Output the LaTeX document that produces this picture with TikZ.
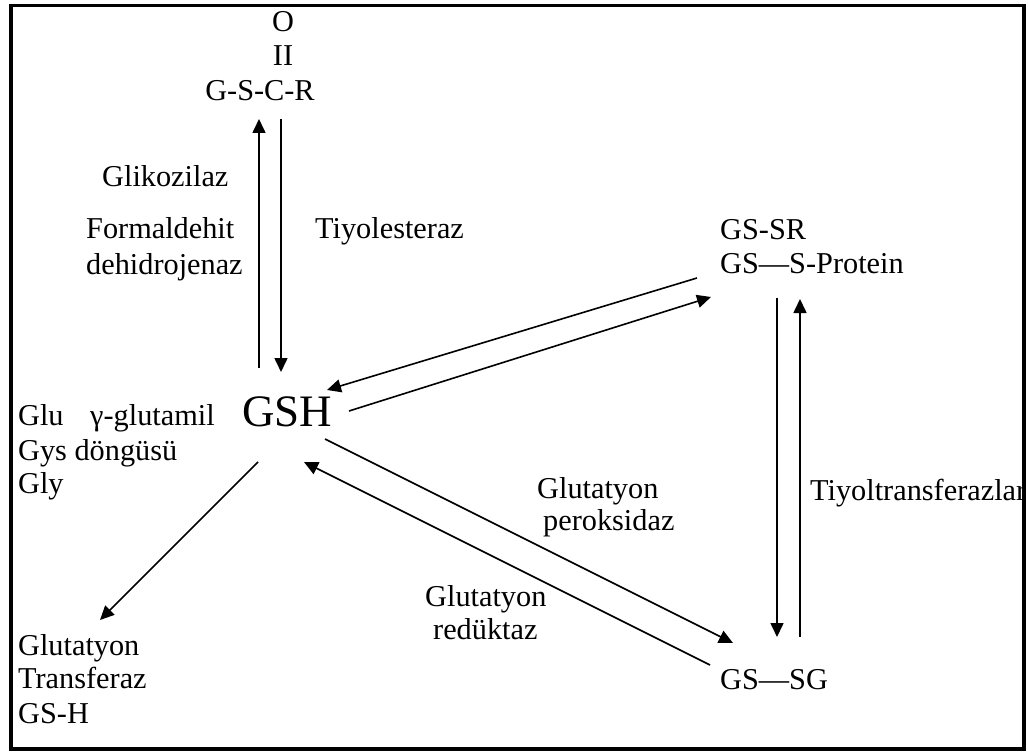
\documentclass[tikz,border=0pt]{standalone}
\usepackage{fontspec}
\setmainfont{Liberation Serif}
\usetikzlibrary{arrows.meta}
\begin{document}
\begin{tikzpicture}[x=1pt,y=-1pt,
  lbl/.style={inner sep=0pt,font=\fontsize{30.3}{34}\selectfont,anchor=base west},
  lblc/.style={inner sep=0pt,font=\fontsize{30.3}{34}\selectfont,anchor=base},
  conn/.style={line width=1.6pt},
  arr/.style={conn,-{Triangle[length=14pt,width=13pt]}}]
\useasboundingbox (0,0) rectangle (1028,754);
\draw[line width=3.5pt] (11,5.5) rectangle (1024,749);
% top compound
\node[lblc] (o) at (283,32) {O};
\node[lblc] (ii) at (283,66) {II};
\node[lblc] (gscr) at (260,101) {G-S-C-R};
% enzyme labels
\node[lbl] (glik) at (102,187) {Glikozilaz};
\node[lbl] (form) at (86,239) {Formaldehit};
\node[lbl] (dehi) at (86,274) {dehidrojenaz};
\node[lbl] (tiyol) at (315,239) {Tiyolesteraz};
% right top
\node[lbl] (gssr) at (720,240) {GS-SR};
\node[lbl] (gsprot) at (720,273) {GS—S-Protein};
% GSH
\node[inner sep=0pt,font=\fontsize{45}{50}\selectfont,anchor=base west] (gsh) at (242,426) {GSH};
\node[lbl] (glu) at (18,425) {Glu};
\node[lbl] (ggl) at (90,425) {γ-glutamil};
\node[lbl] (gys) at (18,460) {Gys döngüsü};
\node[lbl] (gly) at (18,493) {Gly};
% right middle
\node[lbl] (tiyt) at (810,500) {Tiyoltransferazlar};
\node[lbl] (glp1) at (537,498) {Glutatyon};
\node[lbl] (glp2) at (543,530) {peroksidaz};
\node[lbl] (glr1) at (425,606) {Glutatyon};
\node[lbl] (glr2) at (433,639) {redüktaz};
% bottom
\node[lbl] (gssg) at (720,689) {GS—SG};
\node[lbl] (gt1) at (18,655) {Glutatyon};
\node[lbl] (gt2) at (18,688) {Transferaz};
\node[lbl] (gt3) at (18,723) {GS-H};
% connector end points
\coordinate (v1a) at (259,368); \coordinate (v1b) at (259,119);
\coordinate (v2a) at (281,119); \coordinate (v2b) at (281,372);
\coordinate (d1a) at (697,278); \coordinate (d1b) at (327,390);
\coordinate (d2a) at (349,411); \coordinate (d2b) at (711,297);
\coordinate (d3a) at (325,439); \coordinate (d3b) at (733,643);
\coordinate (d4a) at (710,665); \coordinate (d4b) at (304,462);
\coordinate (d5a) at (258,462); \coordinate (d5b) at (100,620);
\coordinate (r1a) at (777,298); \coordinate (r1b) at (777,637);
\coordinate (r2a) at (800,637); \coordinate (r2b) at (800,299);
\draw[arr] (v1a) -- (v1b);
\draw[arr] (v2a) -- (v2b);
\draw[arr] (d1a) -- (d1b);
\draw[arr] (d2a) -- (d2b);
\draw[arr] (d3a) -- (d3b);
\draw[arr] (d4a) -- (d4b);
\draw[arr] (d5a) -- (d5b);
\draw[arr] (r1a) -- (r1b);
\draw[arr] (r2a) -- (r2b);
\end{tikzpicture}
\end{document}
